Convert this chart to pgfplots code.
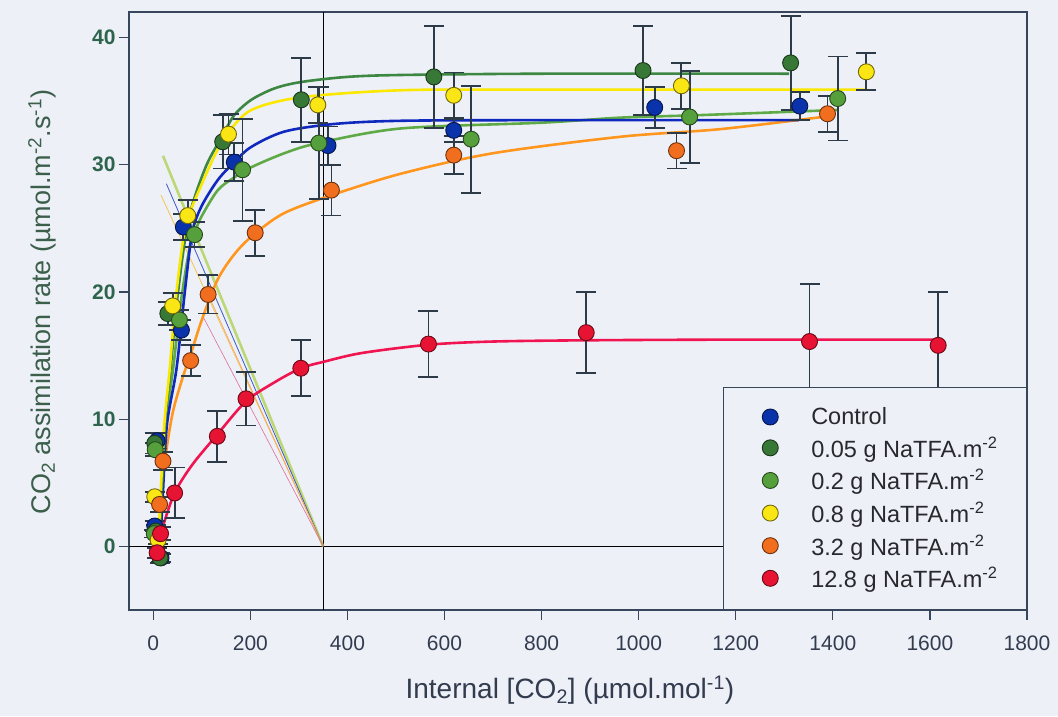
\documentclass[border=0pt]{standalone}
\usepackage{fontspec}
\setmainfont{Liberation Sans}
\usepackage{pgfplots}
\pgfplotsset{compat=1.18}
\definecolor{bg}{RGB}{238,240,248}
\definecolor{framecol}{RGB}{55,70,90}
\definecolor{ytickc}{RGB}{45,100,75}
\definecolor{ylabc}{RGB}{60,95,75}
\definecolor{xtickc}{RGB}{50,60,78}
\definecolor{errc}{RGB}{45,58,72}
\definecolor{legtext}{RGB}{40,40,45}
\definecolor{cblue}{RGB}{10,50,170}
\definecolor{cblueL}{RGB}{15,40,190}
\definecolor{cdg}{RGB}{55,120,55}
\definecolor{cdgL}{RGB}{60,135,65}
\definecolor{clg}{RGB}{85,160,60}
\definecolor{clgL}{RGB}{95,170,70}
\definecolor{cyel}{RGB}{250,230,20}
\definecolor{cyelL}{RGB}{250,232,0}
\definecolor{cora}{RGB}{240,110,30}
\definecolor{coraL}{RGB}{255,150,30}
\definecolor{cred}{RGB}{230,20,50}
\definecolor{credL}{RGB}{240,20,80}
\pgfplotsset{
  pts/.style={only marks, mark=*, mark size=8pt,
    mark options={fill=#1, draw=#1!45!black, line width=0.9pt},
    legend image code/.code={\path (0pt,0pt); \draw[##1] plot coordinates {(19pt,0pt)};},
    error bars/.cd, y dir=both, y explicit,
    error bar style={draw=errc, line width=1.8pt},
    error mark options={draw=errc, line width=1.8pt, mark size=10pt, rotate=90}},
  crv/.style={forget plot, no marks, smooth, tension=0.5, line width=2.6pt, draw=#1},
}
\begin{document}
\begin{tikzpicture}
\path[use as bounding box, fill=bg] (-129pt,-106pt) rectangle (929pt,610pt);
\begin{axis}[
  at={(0pt,0pt)}, anchor=south west,
  scale only axis, width=898pt, height=598pt,
  xmin=-50, xmax=1800, ymin=-5, ymax=42,
  xtick={0,200,...,1800}, ytick={0,10,20,30,40},
  /pgf/number format/1000 sep={},
  /pgf/number format/assume math mode=true,
  axis line style={draw=framecol, line width=1.2pt},
  tick style={draw=framecol, line width=1.2pt},
  major tick length=10pt, tick align=outside, tick pos=left,
  xticklabel style={font=\fontsize{21}{25}\selectfont, text=xtickc, yshift=-12pt},
  yticklabel style={font=\bfseries\fontsize{21}{25}\selectfont, text=ytickc},
  xlabel={Internal [CO\textsubscript{2}] (µmol.mol\textsuperscript{-1})},
  ylabel={CO\textsubscript{2} assimilation rate (µmol.m\textsuperscript{-2}.s\textsuperscript{-1})},
  xlabel style={font=\fontsize{28}{33}\selectfont, text=xtickc, at={(axis description cs:0.491,-0.134)}, anchor=center},
  ylabel style={font=\fontsize{27}{32}\selectfont, text=ylabc, at={(axis description cs:-0.0969,0.515)}, anchor=center},
  legend style={at={(rel axis cs:1,0)}, anchor=south east, draw=framecol, line width=1pt, fill=bg,
    font=\fontsize{23.5}{28}\selectfont, text=legtext, inner xsep=27pt, inner ysep=18.2pt, row sep=6.6pt,
    /tikz/every odd column/.append style={column sep=31pt}},
  legend cell align=left,
]
% reference lines
\addplot[forget plot, black, line width=0.8pt] coordinates {(350,-5) (350,42)};
\addplot[forget plot, black, line width=0.8pt] coordinates {(-50,0) (1800,0)};
% supply lines
\addplot[forget plot, draw={rgb,255:red,175;green,210;blue,85}, line width=2.6pt, opacity=0.8] coordinates {(20,30.7) (350,0)};
\addplot[forget plot, draw={rgb,255:red,60;green,90;blue,200}, line width=0.8pt] coordinates {(27,28.5) (350,0)};
\addplot[forget plot, draw={rgb,255:red,245;green,195;blue,80}, line width=0.8pt] coordinates {(16,27.6) (350,0)};
\addplot[forget plot, draw={rgb,255:red,245;green,160;blue,90}, line width=0.6pt] coordinates {(113,19.8) (350,0)};
\addplot[forget plot, draw={rgb,255:red,220;green,110;blue,150}, line width=0.6pt] coordinates {(102,18.1) (350,0)};
% fitted curves
\addplot[crv=credL] coordinates {(10,0.3) (20,1.6) (44,4.2) (80,6.4) (132,8.8) (191,11.4) (250,12.9) (304,14.0) (350,14.5) (430,15.2) (567,15.85) (700,16.1) (900,16.2) (1200,16.25) (1620,16.25)};
\addplot[crv=coraL] coordinates {(12,0.5) (16,3.5) (25,7.0) (40,10.5) (60,13.2) (78,15.2) (100,17.8) (133,21.0) (170,23.1) (210,24.6) (270,26.2) (367,27.6) (511,29.3) (700,30.9) (964,32.2) (1170,32.8) (1389,33.8)};
\addplot[crv=clgL] coordinates {(13,0) (18,4) (27,10) (41,14) (58,19.5) (75,23.5) (85,24.6) (99,25.9) (133,28.0) (167,29.0) (202,29.8) (270,30.9) (340,31.7) (511,32.85) (800,33.3) (964,33.7) (1129,33.9) (1410,34.3)};
\addplot[crv=cblueL] coordinates {(14,0) (19,3.5) (28,9.5) (48,14) (65,20) (80,24.6) (99,26.7) (133,28.8) (167,30.2) (202,31.4) (270,32.6) (373,33.2) (511,33.45) (800,33.5) (1330,33.5)};
\addplot[crv=cdgL] coordinates {(12,0) (17,4) (25,10) (37,14.5) (48,19) (65,24) (80,26.8) (110,30) (143,32.3) (167,33.9) (202,35.1) (250,36.0) (305,36.5) (400,36.9) (511,37.05) (800,37.15) (1310,37.15)};
\addplot[crv=cyelL] coordinates {(10,0) (15,4) (23,9.7) (34,14) (45,19) (61,24) (72,25.9) (99,28.4) (130,31.0) (154,32.5) (202,34.3) (305,35.3) (511,35.85) (800,35.9) (1470,35.9)};
% data points
\addplot[pts=cblue] coordinates {(8,8.3)+-(0,0.6) (3,1.6)+-(0,0.4) (16,-0.9)+-(0,0.3) (58,17.0)+-(0,0.8) (62,25.1)+-(0,1.0) (167,30.2)+-(0,1.5) (360,31.5)+-(0,1.5) (619,32.7)+-(0,0.9) (1033,34.5)+-(0,1.6) (1332,34.6)+-(0,1.1)};
\addlegendentry{Control}
\addplot[pts=cdg] coordinates {(3,8.1)+-(0,0.8) (5,1.2)+-(0,0.5) (14,-0.9)+-(0,0.4) (30,18.3)+-(0,0.9) (143,31.8)+-(0,2.1) (305,35.1)+-(0,3.3) (578,36.9)+-(0,4.0) (1009,37.4)+-(0,3.5) (1313,38.0)+-(0,3.7)};
\addlegendentry{0.05 g NaTFA.m\textsuperscript{-2}}
\addplot[pts=clg] coordinates {(4,7.6)+-(0,0.5) (2,1.0)+-(0,0.3) (54,17.8)+-(0,0.8) (85,24.5)+-(0,1.0) (184,29.6)+-(0,4.0) (341,31.7)+-(0,4.4) (655,32.0)+-(0,4.2) (1105,33.75)+-(0,3.6) (1410,35.2)+-(0,3.3)};
\addlegendentry{0.2 g NaTFA.m\textsuperscript{-2}}
\addplot[pts=cyel] coordinates {(3,3.9)+-(0,0.4) (10,0.5)+-(0,0.3) (40,18.9)+-(0,1.0) (71,26.0)+-(0,1.2) (155,32.4)+-(0,1.6) (339,34.7)+-(0,1.4) (619,35.45)+-(0,1.8) (1088,36.2)+-(0,1.8) (1469,37.3)+-(0,1.45)};
\addlegendentry{0.8 g NaTFA.m\textsuperscript{-2}}
\addplot[pts=cora] coordinates {(13,3.3)+-(0,0.6) (20,6.7)+-(0,0.7) (77,14.6)+-(0,1.2) (113,19.8)+-(0,1.5) (210,24.65)+-(0,1.8) (367,28.0)+-(0,2.0) (619,30.75)+-(0,1.5) (1078,31.1)+-(0,1.4) (1389,34.0)+-(0,1.4)};
\addlegendentry{3.2 g NaTFA.m\textsuperscript{-2}}
\addplot[pts=cred] coordinates {(8,-0.5)+-(0,0.4) (15,1.0)+-(0,0.5) (44,4.2)+-(0,2.0) (132,8.65)+-(0,2.0) (191,11.6)+-(0,2.1) (304,14.0)+-(0,2.2) (567,15.9)+-(0,2.6) (892,16.8)+-(0,3.2) (1352,16.1)+-(0,4.5) (1617,15.8)+-(0,4.2)};
\addlegendentry{12.8 g NaTFA.m\textsuperscript{-2}}
\end{axis}
\end{tikzpicture}
\end{document}
